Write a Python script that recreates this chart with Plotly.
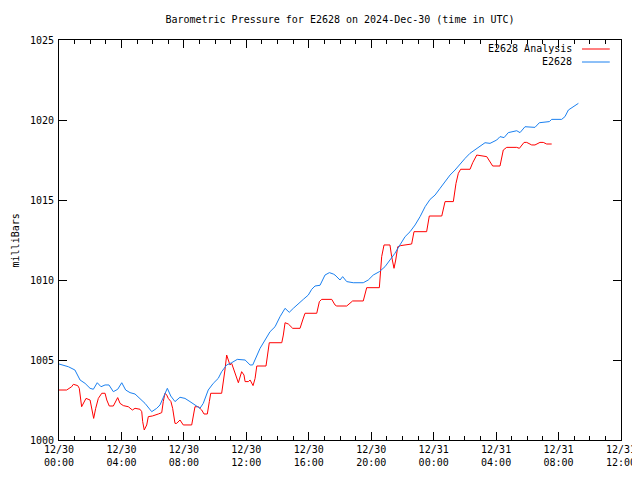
import pandas as pd
import plotly.graph_objects as go

# E2628 observed (hours since 2024-12-30 00:00 UTC, mb)
obs_hours = [0.0, 0.6, 1.02, 1.35, 1.67, 1.99, 2.2, 2.45, 2.69, 2.95, 3.2, 3.48, 3.76, 4.02, 4.27,
             4.55, 4.87, 5.19, 5.51, 5.94, 6.26, 6.47, 6.68, 6.94, 7.16, 7.43, 7.75, 8.07, 8.39,
             8.71, 9.03, 9.24, 9.56, 9.88, 10.2, 10.42, 10.74, 11.06, 11.42, 11.92, 12.24, 12.41,
             12.67, 12.88, 13.2, 13.52, 13.84, 14.16, 14.48, 14.75, 15.01, 15.33, 15.65, 15.97,
             16.19, 16.4, 16.72, 17.04, 17.32, 17.57, 17.68, 18.0, 18.17, 18.43, 18.85, 19.49,
             19.81, 20.13, 20.52, 20.88, 21.2, 21.52, 21.84, 22.17, 22.49, 22.81, 23.13, 23.45,
             23.77, 24.09, 24.41, 24.73, 25.05, 25.37, 25.69, 26.01, 26.33, 26.65, 26.97, 27.29,
             27.61, 28.04, 28.25, 28.51, 28.78, 29.1, 29.32, 29.53, 29.85, 30.49, 30.77, 31.41,
             31.56, 32.2, 32.41, 32.63, 32.91, 33.27]
obs_mb = [1004.75, 1004.58, 1004.375, 1003.75, 1003.54, 1003.23, 1003.17, 1003.58, 1003.33, 1003.44,
          1003.44, 1003.02, 1003.17, 1003.58, 1003.125, 1002.96, 1002.875, 1002.6, 1002.29, 1001.77,
          1001.98, 1002.19, 1002.71, 1003.23, 1002.75, 1002.4, 1002.67, 1002.6, 1002.4, 1002.19,
          1001.98, 1002.29, 1003.125, 1003.54, 1003.85, 1004.27, 1004.69, 1004.83, 1005.04, 1005.0,
          1004.69, 1004.69, 1005.21, 1005.73, 1006.25, 1006.77, 1007.08, 1007.71, 1008.23, 1007.98,
          1008.23, 1008.54, 1008.79, 1009.06, 1009.42, 1009.625, 1009.67, 1010.31, 1010.46, 1010.375,
          1010.31, 1010.0, 1010.21, 1009.9, 1009.83, 1009.83, 1010.0, 1010.31, 1010.52, 1010.83,
          1011.25, 1011.67, 1012.19, 1012.71, 1013.02, 1013.44, 1013.96, 1014.58, 1015.04, 1015.31,
          1015.73, 1016.15, 1016.56, 1016.875, 1017.25, 1017.6, 1017.92, 1018.125, 1018.33, 1018.58,
          1018.54, 1018.75, 1018.96, 1018.9, 1019.21, 1019.27, 1019.33, 1019.21, 1019.58, 1019.54,
          1019.83, 1019.9, 1020.04, 1020.04, 1020.21, 1020.625, 1020.83, 1021.04]

# E2628 Analysis
ana_hours = [0.0, 0.49, 0.81, 0.92, 1.2, 1.3, 1.45, 1.56, 1.73, 1.99, 2.09, 2.22, 2.35, 2.52, 2.74,
             2.95, 3.06, 3.22, 3.48, 3.76, 3.91, 4.12, 4.44, 4.7, 4.87, 5.19, 5.3, 5.36, 5.46, 5.62,
             5.72, 5.98, 6.36, 6.58, 6.68, 6.79, 6.9, 7.0, 7.17, 7.28, 7.43, 7.54, 7.75, 7.96, 8.5,
             8.6, 8.71, 8.92, 9.14, 9.29, 9.5, 9.63, 9.72, 10.42, 10.52, 10.63, 10.74, 10.85, 10.95,
             11.06, 11.27, 11.49, 11.7, 11.85, 11.92, 12.13, 12.24, 12.43, 12.56, 12.67, 13.26,
             13.34, 13.47, 14.27, 14.37, 14.48, 14.69, 14.97, 15.44, 15.61, 15.76, 16.51, 16.68,
             16.83, 17.47, 17.68, 17.79, 18.43, 18.81, 19.49, 19.71, 20.52, 20.61, 20.67, 20.82,
             21.2, 21.31, 21.46, 21.57, 21.7, 21.89, 22.59, 22.74, 23.55, 23.72, 24.52, 24.73,
             25.26, 25.43, 25.58, 25.73, 26.33, 26.5, 26.76, 27.4, 27.78, 28.25, 28.46, 28.68,
             29.32, 29.49, 29.79, 29.96, 30.28, 30.49, 30.81, 31.02, 31.24, 31.56]
ana_mb = [1003.125, 1003.125, 1003.33, 1003.48, 1003.4, 1003.23, 1002.08, 1002.25, 1002.6, 1002.5,
          1001.875, 1001.35, 1001.98, 1002.6, 1002.92, 1002.92, 1002.5, 1002.125, 1002.125, 1002.65,
          1002.29, 1002.15, 1002.08, 1001.875, 1001.98, 1001.92, 1001.77, 1001.15, 1000.625, 1000.94,
          1001.46, 1001.5, 1001.625, 1001.71, 1002.4, 1002.92, 1002.81, 1002.6, 1002.4, 1001.98,
          1001.04, 1001.04, 1001.25, 1000.94, 1000.94, 1001.46, 1002.08, 1002.08, 1001.875, 1001.625,
          1001.625, 1002.4, 1002.92, 1002.92, 1003.54, 1004.375, 1005.31, 1005.0, 1004.69, 1004.79,
          1004.17, 1003.58, 1004.27, 1004.06, 1003.65, 1003.65, 1003.75, 1003.4, 1003.85, 1004.625,
          1004.625, 1005.21, 1006.08, 1006.08, 1006.56, 1007.33, 1007.25, 1006.98, 1006.98, 1007.5,
          1007.92, 1007.92, 1008.65, 1008.79, 1008.79, 1008.44, 1008.375, 1008.375, 1008.69, 1008.69,
          1009.52, 1009.52, 1010.52, 1011.46, 1012.19, 1012.19, 1011.46, 1010.73, 1011.25, 1012.08,
          1012.15, 1012.25, 1013.02, 1013.02, 1014.0, 1014.0, 1014.9, 1014.9, 1016.04, 1016.67,
          1016.92, 1016.92, 1017.33, 1017.81, 1017.71, 1017.125, 1017.125, 1018.125, 1018.29,
          1018.29, 1018.23, 1018.6, 1018.6, 1018.44, 1018.44, 1018.6, 1018.6, 1018.5, 1018.5]

y_ticks = [1000, 1005, 1010, 1015, 1020, 1025]
x_start = "2024-12-30 00:00"
x_end = "2024-12-31 12:00"

base = pd.Timestamp(x_start)
obs_t = base + pd.to_timedelta(obs_hours, unit="h")
ana_t = base + pd.to_timedelta(ana_hours, unit="h")

RED = "#ff0000"
BLUE = "#1a80f0"
FONT = "DejaVu Sans Mono"

# page has an 8px body margin, so the figure is 632x472 placed at (8, 8)
W, H = 632, 472

fig = go.Figure()
fig.add_trace(go.Scatter(x=ana_t, y=ana_mb, mode="lines", name="E2628 Analysis",
                         line=dict(color=RED, width=1)))
fig.add_trace(go.Scatter(x=obs_t, y=obs_mb, mode="lines", name="E2628",
                         line=dict(color=BLUE, width=1)))

fig.update_layout(
    width=W, height=H,
    margin=dict(l=51, r=19, t=32, b=40, autoexpand=False),
    paper_bgcolor="white", plot_bgcolor="white",
    showlegend=False,
    font=dict(family=FONT, size=10, color="black"),
    title=dict(text="Barometric Pressure for E2628 on 2024-Dec-30 (time in UTC)",
               x=0.5, xref="paper", xanchor="center", y=1 - 11 / H, yanchor="middle",
               font=dict(family=FONT, size=10, color="black")),
)
fig.update_xaxes(
    range=[x_start, x_end], type="date",
    tick0=x_start, dtick=4 * 3600 * 1000, tickformat="%m/%d<br>%H:%M",
    ticks="inside", ticklen=8, tickcolor="black",
    showline=True, linecolor="black", linewidth=1, mirror="allticks",
    showgrid=False, zeroline=False,
    minor=dict(dtick=3600 * 1000, ticks="inside", ticklen=4, tickcolor="black", showgrid=False),
    tickfont=dict(family=FONT, size=10),
)
fig.update_yaxes(
    range=[1000, 1025], tickvals=y_ticks,
    ticks="inside", ticklen=8, tickcolor="black",
    showline=True, linecolor="black", linewidth=1, mirror="allticks",
    showgrid=False, zeroline=False,
    ticklabelstandoff=2,
    tickfont=dict(family=FONT, size=10),
)

# y-axis label
fig.add_annotation(text="milliBars", xref="paper", yref="paper", x=-0.0775, y=0.5,
                   xanchor="center", yanchor="middle", textangle=-90, showarrow=False,
                   font=dict(family=FONT, size=10, color="black"))

# key (top-right, text then line sample)
legend_items = [("E2628 Analysis", RED), ("E2628", BLUE)]
for i, (label, col) in enumerate(legend_items):
    yp = 0.9775 - i * 0.0325
    fig.add_annotation(text=label, xref="paper", yref="paper", x=0.9164, y=yp,
                       xanchor="right", yanchor="middle", showarrow=False,
                       font=dict(family=FONT, size=10, color="black"))
    fig.add_shape(type="line", xref="paper", yref="paper", x0=0.9306, x1=0.980, y0=yp, y1=yp,
                  line=dict(color=col, width=1))

fig.write_html("out.html")
